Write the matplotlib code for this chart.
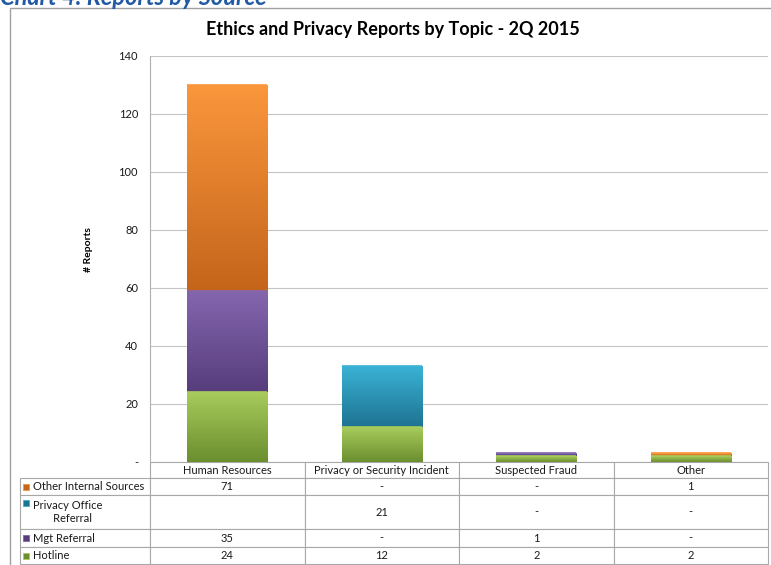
import numpy as np
import matplotlib
matplotlib.use('Agg')
import matplotlib.pyplot as plt
from matplotlib.colors import LinearSegmentedColormap
from matplotlib.patches import Rectangle
from matplotlib.ticker import FuncFormatter

plt.rcParams['font.family'] = ['Lato', 'DejaVu Sans']

# data
topics = ['Human Resources', 'Privacy or Security Incident', 'Suspected Fraud', 'Other']
hotline = [24, 12, 2, 2]
mgt_referral = [35, 0, 1, 0]
privacy_referral = [np.nan, 21, 0, 0]   # blank cell for HR
other_internal = [71, 0, 0, 1]
y_ticks = [0, 20, 40, 60, 80, 100, 120, 140]

# stacked bottom -> top: (values, legend label, top colour, bottom colour)
series = [
    (hotline, 'Hotline', '#A8CB5C', '#6B8E2F'),
    (mgt_referral, 'Mgt Referral', '#8466AF', '#573D7C'),
    (privacy_referral, 'Privacy Office\n       Referral', '#3AB2D5', '#1E7391'),
    (other_internal, 'Other Internal Sources', '#FA963C', '#C4651B'),
]

W, H = 771, 565
AW, AH = 618, 406   # axes size in px
fig = plt.figure(figsize=(W / 100, H / 100), dpi=100)
ax = fig.add_axes([150 / W, 103 / H, AW / W, AH / H])

x = np.arange(len(topics))
bw = 0.52
bottom = np.zeros(len(topics))
for vals, lab, ctop, cbot in series:
    v = np.nan_to_num(np.array(vals, dtype=float))
    bars = ax.bar(x, v, bw, bottom=bottom, color=cbot, zorder=3)
    cmap = LinearSegmentedColormap.from_list('g', [cbot, ctop])
    grad = np.linspace(0, 1, 128).reshape(-1, 1)
    for b in bars:
        if b.get_height() <= 0:
            continue
        im = ax.imshow(grad, extent=[b.get_x(), b.get_x() + b.get_width(),
                                     b.get_y(), b.get_y() + b.get_height()],
                       origin='lower', cmap=cmap, aspect='auto', zorder=3.1)
        im.set_clip_path(b)
        # light highlight along top of each segment
        ax.plot([b.get_x(), b.get_x() + b.get_width()],
                [b.get_y() + b.get_height()] * 2, color=ctop, lw=1.2, zorder=3.2,
                solid_capstyle='butt')
    bottom += v

ax.set_xlim(-0.5, len(topics) - 0.5)
ax.set_ylim(0, 140)
ax.set_yticks(y_ticks)
ax.yaxis.set_major_formatter(FuncFormatter(lambda v, p: '-' if v == 0 else '%d' % v))
ax.set_xticks([])
ax.yaxis.grid(True, color='#C4C4C4', lw=0.8)
ax.set_axisbelow(True)
ax.tick_params(axis='y', length=0, pad=8.6, labelsize=8, labelcolor='#1a1a1a')
for s in ['top', 'right', 'bottom']:
    ax.spines[s].set_visible(False)
ax.spines['left'].set_color('#B0B0B0')
ax.set_ylabel('# Reports', fontsize=7.5, fontweight='bold')
ax.yaxis.set_label_coords((93 - 150) / AW, (462 - 250) / AH)

# data table under the chart
def fmt(v):
    if np.isnan(v):
        return ''
    return '-' if v == 0 else '%d' % v

rows = series[::-1]
cell_text = [[fmt(float(v)) for v in r[0]] for r in rows]
row_labels = [r[1] for r in rows]
row_h = [16, 17, 34, 18, 17]
tab = ax.table(cellText=cell_text, rowLabels=row_labels, colLabels=topics,
               cellLoc='center', rowLoc='left', colLoc='center',
               bbox=[0, -sum(row_h) / AH, 1, sum(row_h) / AH])
tab._autoColumns = []
tab.auto_set_font_size(False)
tab.set_fontsize(8)
for (r, c), cell in tab.get_celld().items():
    cell.set_height(row_h[r] / AH)
    cell.set_width((130 if c == -1 else AW / 4) / AW)
    cell.set_edgecolor('#A8A8A8')
    cell.set_linewidth(0.8)
    cell.get_text().set_color('#1a1a1a')
    cell.get_text().set_fontsize(8)

# legend keys in the row label cells
key_y = [24.5, 41, 76, 93.5]
for (vals, lab, ctop, cbot), py in zip(rows, key_y):
    ax.add_patch(Rectangle(((23 - 150) / AW, -(py + 3) / AH), 6 / AW, 6 / AH,
                           transform=ax.transAxes, facecolor=cbot, edgecolor=ctop,
                           lw=0.6, clip_on=False, zorder=5))

fig.text(393 / W, 1 - 30 / H, 'Ethics and Privacy Reports by Topic - 2Q 2015',
         ha='center', va='center', fontsize=13, fontweight='bold')
fig.text(0 / W, 1 - 5 / H, 'Chart 4: Reports by Source', color='#2159A5',
         fontsize=17, fontweight='bold', style='italic', va='baseline')
fig.add_artist(Rectangle((10 / W, -0.01), 1, 1 - 8 / H + 0.01, transform=fig.transFigure,
                         fill=False, edgecolor='#A0A0A0', lw=1))

fig.savefig('out.png', dpi=100)
